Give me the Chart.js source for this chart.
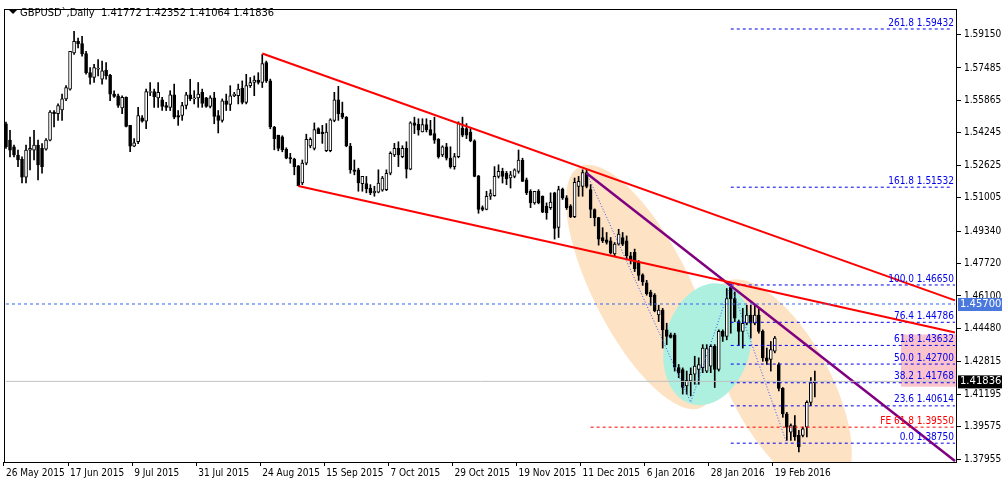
<!DOCTYPE html>
<html>
<head>
<meta charset="utf-8">
<script src="https://cdn.jsdelivr.net/npm/chart.js@4.4.0/dist/chart.umd.min.js"></script>
<style>
html,body{margin:0;padding:0;background:#fff;}
#wrap{width:1002px;height:485px;position:relative;}
</style>
</head>
<body>
<div id="wrap"><canvas id="myChart"></canvas></div>
<script>
// daily candles GBPUSD, 26 May 2015 - 29 Feb 2016
var opens = [1.5470,1.5388,1.5355,1.5314,1.5292,1.5203,1.5338,1.5338,1.5363,1.5347,1.5343,1.5388,1.5528,1.5520,1.5539,1.5594,1.5643,1.5824,1.5882,1.5870,
1.5821,1.5725,1.5701,1.5742,1.5692,1.5737,1.5712,1.5618,1.5610,1.5549,1.5602,1.5462,1.5358,1.5380,1.5500,1.5483,1.5627,1.5631,1.5599,1.5589,
1.5561,1.5552,1.5615,1.5511,1.5511,1.5561,1.5615,1.5594,1.5599,1.5627,1.5599,1.5556,1.5599,1.5511,1.5487,1.5585,1.5566,1.5610,1.5610,1.5648,
1.5577,1.5660,1.5676,1.5688,1.5676,1.5775,1.5684,1.5454,1.5413,1.5405,1.5342,1.5301,1.5293,1.5260,1.5174,1.5273,1.5359,1.5347,1.5446,1.5429,
1.5335,1.5335,1.5487,1.5589,1.5523,1.5503,1.5359,1.5240,1.5240,1.5171,1.5171,1.5149,1.5125,1.5128,1.5138,1.5141,1.5223,1.5314,1.5347,1.5306,
1.5347,1.5243,1.5474,1.5467,1.5429,1.5466,1.5441,1.5421,1.5392,1.5314,1.5355,1.5298,1.5256,1.5306,1.5449,1.5446,1.5429,1.5385,1.5210,1.5051,
1.5042,1.5108,1.5111,1.5207,1.5232,1.5223,1.5199,1.5207,1.5232,1.5289,1.5190,1.5133,1.5075,1.5133,1.5108,1.5059,1.5051,1.5125,1.4952,1.5144,
1.5100,1.5059,1.5006,1.5157,1.5157,1.5226,1.5141,1.5042,1.5001,1.4902,1.4890,1.4886,1.4820,1.4869,1.4902,1.4886,1.4811,1.4828,1.4779,1.4716,
1.4676,1.4630,1.4614,1.4515,1.4540,1.4441,1.4416,1.4416,1.4252,1.4243,1.4161,1.4186,1.4219,1.4243,1.4252,1.4235,1.4260,1.4359,1.4243,1.4433,
1.4408,1.4655,1.4597,1.4482,1.4433,1.4474,1.4515,1.4474,1.4515,1.4433,1.4301,1.4293,1.4334,1.4268,1.4149,1.4021,1.3930,1.3963,1.3914,1.3914,
1.3955,1.4079,1.41772];
var highs = [1.5478,1.5437,1.5363,1.5338,1.5305,1.5363,1.5404,1.5437,1.5388,1.5371,1.5396,1.5536,1.5536,1.5569,1.5618,1.5660,1.5832,1.5931,1.5898,1.5907,
1.5832,1.5750,1.5767,1.5791,1.5783,1.5775,1.5717,1.5635,1.5618,1.5610,1.5605,1.5462,1.5396,1.5552,1.5511,1.5643,1.5676,1.5643,1.5676,1.5602,
1.5577,1.5635,1.5668,1.5536,1.5577,1.5627,1.5692,1.5635,1.5676,1.5643,1.5602,1.5610,1.5627,1.5536,1.5594,1.5618,1.5660,1.5627,1.5668,1.5684,
1.5717,1.5701,1.5709,1.5725,1.5816,1.5783,1.5693,1.5457,1.5413,1.5410,1.5350,1.5322,1.5298,1.5262,1.5289,1.5418,1.5400,1.5474,1.5450,1.5462,
1.5471,1.5495,1.5627,1.5657,1.5578,1.5506,1.5372,1.5289,1.5248,1.5207,1.5207,1.5166,1.5158,1.5240,1.5207,1.5240,1.5330,1.5372,1.5380,1.5360,
1.5380,1.5480,1.5503,1.5495,1.5495,1.5495,1.5487,1.5503,1.5396,1.5360,1.5372,1.5355,1.5322,1.5480,1.5503,1.5471,1.5446,1.5390,1.5212,1.5060,
1.5133,1.5141,1.5256,1.5265,1.5248,1.5232,1.5232,1.5245,1.5339,1.5298,1.5199,1.5141,1.5133,1.5141,1.5110,1.5075,1.5125,1.5128,1.5158,1.5149,
1.5111,1.5066,1.5199,1.5207,1.5240,1.5240,1.5166,1.5045,1.5003,1.4951,1.4927,1.4902,1.4877,1.4943,1.4927,1.4910,1.4828,1.4844,1.4787,1.4721,
1.4688,1.4639,1.4622,1.4564,1.4548,1.4474,1.4425,1.4424,1.4268,1.4251,1.4235,1.4251,1.4309,1.4301,1.4367,1.4367,1.4367,1.4367,1.4441,1.4441,
1.4647,1.4671,1.4630,1.4490,1.4548,1.4564,1.4564,1.4564,1.4548,1.4441,1.4350,1.4383,1.4408,1.4276,1.4153,1.4029,1.3971,1.4013,1.3939,1.3955,
1.4087,1.4202,1.42352];
var lows = [1.5347,1.5305,1.5305,1.5256,1.5174,1.5174,1.5240,1.5289,1.5190,1.5223,1.5338,1.5384,1.5454,1.5487,1.5487,1.5585,1.5638,1.5816,1.5849,1.5808,
1.5717,1.5668,1.5676,1.5709,1.5668,1.5692,1.5585,1.5602,1.5552,1.5520,1.5454,1.5330,1.5355,1.5371,1.5478,1.5445,1.5610,1.5552,1.5552,1.5536,
1.5536,1.5536,1.5495,1.5462,1.5487,1.5544,1.5585,1.5569,1.5552,1.5552,1.5552,1.5549,1.5470,1.5424,1.5478,1.5536,1.5536,1.5605,1.5569,1.5569,
1.5569,1.5651,1.5610,1.5668,1.5651,1.5676,1.5445,1.5340,1.5335,1.5330,1.5295,1.5273,1.5215,1.5161,1.5166,1.5265,1.5350,1.5339,1.5421,1.5372,
1.5331,1.5330,1.5480,1.5487,1.5495,1.5355,1.5223,1.5215,1.5133,1.5133,1.5125,1.5116,1.5108,1.5125,1.5133,1.5136,1.5215,1.5306,1.5256,1.5300,
1.5199,1.5240,1.5421,1.5413,1.5429,1.5429,1.5413,1.5372,1.5298,1.5306,1.5289,1.5248,1.5243,1.5300,1.5405,1.5396,1.5380,1.5205,1.5023,1.5035,
1.5040,1.5092,1.5108,1.5199,1.5174,1.5166,1.5149,1.5200,1.5223,1.5182,1.5116,1.5051,1.5068,1.5070,1.5026,1.4993,1.5042,1.4894,1.4902,1.5092,
1.5042,1.5001,1.5001,1.5108,1.5108,1.5150,1.5001,1.4960,1.4864,1.4877,1.4869,1.4820,1.4811,1.4864,1.4861,1.4795,1.4770,1.4732,1.4688,1.4663,
1.4614,1.4564,1.4531,1.4482,1.4350,1.4367,1.4400,1.4235,1.4202,1.4120,1.4120,1.4111,1.4169,1.4169,1.4227,1.4227,1.4227,1.4153,1.4235,1.4383,
1.4391,1.4424,1.4482,1.4367,1.4350,1.4466,1.4400,1.4466,1.4424,1.4284,1.4268,1.4235,1.4326,1.4136,1.4004,1.3889,1.3889,1.3889,1.3831,1.3906,
1.3906,1.4062,1.41064];
var closes = [1.5355,1.5338,1.5314,1.5289,1.5203,1.5338,1.5347,1.5363,1.5264,1.5256,1.5388,1.5528,1.5520,1.5561,1.5594,1.5651,1.5832,1.5882,1.5870,1.5819,
1.5725,1.5701,1.5750,1.5747,1.5734,1.5709,1.5618,1.5607,1.5561,1.5602,1.5457,1.5358,1.5375,1.5511,1.5483,1.5631,1.5631,1.5605,1.5627,1.5556,
1.5552,1.5615,1.5503,1.5503,1.5561,1.5615,1.5594,1.5599,1.5618,1.5572,1.5556,1.5599,1.5506,1.5487,1.5585,1.5566,1.5610,1.5618,1.5643,1.5577,
1.5660,1.5676,1.5688,1.5676,1.5770,1.5684,1.5454,1.5396,1.5347,1.5339,1.5298,1.5294,1.5256,1.5161,1.5273,1.5392,1.5392,1.5441,1.5421,1.5421,
1.5429,1.5490,1.5589,1.5520,1.5503,1.5359,1.5240,1.5232,1.5174,1.5207,1.5144,1.5125,1.5133,1.5174,1.5199,1.5223,1.5322,1.5347,1.5314,1.5347,
1.5243,1.5474,1.5462,1.5438,1.5466,1.5441,1.5413,1.5388,1.5306,1.5355,1.5298,1.5256,1.5306,1.5471,1.5413,1.5413,1.5385,1.5207,1.5042,1.5042,
1.5108,1.5121,1.5207,1.5232,1.5207,1.5194,1.5215,1.5240,1.5289,1.5182,1.5125,1.5075,1.5133,1.5075,1.5029,1.5026,1.5079,1.4947,1.5141,1.5100,
1.5051,1.5006,1.5177,1.5182,1.5226,1.5157,1.5042,1.5001,1.4894,1.4886,1.4877,1.4825,1.4869,1.4919,1.4869,1.4811,1.4787,1.4746,1.4713,1.4680,
1.4622,1.4606,1.4535,1.4540,1.4441,1.4408,1.4403,1.4255,1.4227,1.4153,1.4189,1.4219,1.4260,1.4268,1.4350,1.4347,1.4359,1.4243,1.4433,1.4408,
1.4597,1.4597,1.4499,1.4433,1.4474,1.4515,1.4474,1.4515,1.4433,1.4301,1.4284,1.4342,1.4400,1.4149,1.4021,1.3955,1.3963,1.3906,1.3856,1.3947,
1.4079,1.4177,1.41836];

var slots = 238;
var dateTicks = {0:'26 May 2015',16:'17 Jun 2015',32:'9 Jul 2015',48:'31 Jul 2015',64:'24 Aug 2015',80:'15 Sep 2015',
  96:'7 Oct 2015',112:'29 Oct 2015',128:'19 Nov 2015',144:'11 Dec 2015',160:'6 Jan 2016',176:'28 Jan 2016',192:'19 Feb 2016'};
var priceTicks = [1.59150,1.57485,1.55865,1.54245,1.52625,1.51005,1.49340,1.47720,1.46100,1.44480,1.42815,1.41195,1.39575,1.37955];

// fibo retracement levels and expansion
var fibNames = ['261.8','161.8','100.0','76.4','61.8','50.0','38.2','23.6','0.0'];
var fibPrices = [1.59432,1.51532,1.46650,1.44786,1.43632,1.42700,1.41768,1.40614,1.38750];
var fePrice = 1.39550;
var bidLine = 1.41836, alertLine = 1.45700;

// trend lines [i0, p0, i1, p1]
var upperLine = [64, 1.5821, 237, 1.4588];
var lowerLine = [73, 1.5159, 237, 1.4428];
var purpleLine = [145, 1.5223, 237, 1.3786];
var zigzagIdx = [145, 171, 181, 195];
var zigzagPx = [1.5223, 1.4080, 1.4665, 1.3875];

var labels = [];
for (var i = 0; i < slots; i++) labels.push(i);

function seg(a, va, b, vb) {
  var arr = new Array(slots).fill(null);
  arr[a] = va; arr[b] = vb;
  return arr;
}
function lineDs(data, color, width, dash) {
  return {type:'line', data:data, borderColor:color, borderWidth:width, borderDash:dash||[],
    pointRadius:0, spanGaps:true, fill:false, order:0, tension:0};
}

var wicks = [], bodies = [], bodyFill = [];
for (var i = 0; i < opens.length; i++) {
  wicks.push([lows[i], highs[i]]);
  var lo = Math.min(opens[i], closes[i]), hi = Math.max(opens[i], closes[i]);
  if (hi - lo < 0.00012) hi = lo + 0.00012;
  bodies.push([lo, hi]);
  bodyFill.push(closes[i] >= opens[i] ? '#ffffff' : '#000000');
}

var zz = new Array(slots).fill(null);
zigzagIdx.forEach(function(ix, k){ zz[ix] = zigzagPx[k]; });

var datasets = [
  {type:'bar', data:wicks, backgroundColor:'#000', barThickness:1, grouped:false, order:3},
  {type:'bar', data:bodies, backgroundColor:bodyFill, borderColor:'#000', borderWidth:1,
   borderSkipped:false, barThickness:3, grouped:false, order:2},
  lineDs(seg(0, alertLine, slots-1, alertLine), '#3366ee', 1, [3,3]),
  lineDs(seg(0, bidLine, slots-1, bidLine), '#c0c0c0', 1),
  lineDs(zz, '#3355ff', 1, [1,2]),
  lineDs(seg(146, fePrice, slots-1, fePrice), '#ff0000', 1, [3,3]),
  lineDs(seg.apply(null, upperLine), '#ff0000', 2),
  lineDs(seg.apply(null, lowerLine), '#ff0000', 2),
  lineDs(seg.apply(null, purpleLine), '#800080', 2.5)
];
fibPrices.forEach(function(p, k){
  var end = k < 2 ? 236 : slots-1;
  datasets.push(lineDs(seg(181, p, end, p), '#0000ee', 1, [3,3]));
});

// shaded ellipses: center index, price, semi axes in px, rotation
var ellipses = [
  {i:158.5, p:1.4655, a:135, b:48, rot:1.10, color:'#fde2c4'},
  {i:193.5, p:1.4161, a:118, b:50, rot:1.08, color:'#fde2c4'},
  {i:175.2, p:1.4369, a:43, b:62, rot:0.25, color:'#aef0e0'}
];

var overlayPlugin = {
  id:'overlay',
  beforeDatasetsDraw: function(chart) {
    var ctx = chart.ctx, x = chart.scales.x, y = chart.scales.y, ca = chart.chartArea;
    ctx.save();
    ctx.beginPath(); ctx.rect(ca.left, ca.top, ca.right-ca.left, ca.bottom-ca.top); ctx.clip();
    ellipses.forEach(function(e){
      var cx = x.left + (e.i + 0.5) * (x.width / slots);
      ctx.fillStyle = e.color;
      ctx.beginPath();
      ctx.ellipse(cx, y.getPixelForValue(e.p), e.a, e.b, e.rot, 0, Math.PI*2);
      ctx.fill();
    });
    // pink box behind fibo labels
    var y1 = y.getPixelForValue(1.4418), y2 = y.getPixelForValue(1.4157);
    ctx.fillStyle = '#fbc4cc';
    ctx.fillRect(ca.right-56, y1, 56, y2-y1);
    ctx.restore();
  },
  afterDraw: function(chart) {
    var ctx = chart.ctx, y = chart.scales.y, ca = chart.chartArea;
    ctx.save();
    ctx.font = '10px "DejaVu Sans Condensed", "Liberation Sans", sans-serif';
    ctx.textAlign = 'right'; ctx.textBaseline = 'bottom';
    fibPrices.forEach(function(p, k){
      ctx.fillStyle = '#0000ee';
      ctx.fillText(fibNames[k] + ' ' + p.toFixed(5), ca.right-3, y.getPixelForValue(p)-1);
    });
    ctx.fillStyle = '#ff0000';
    ctx.fillText('FE 61.8 ' + fePrice.toFixed(5), ca.right-3, y.getPixelForValue(fePrice)-1);
    // border
    ctx.strokeStyle = '#000'; ctx.lineWidth = 1;
    ctx.strokeRect(ca.left+0.5, ca.top+0.5, ca.right-ca.left-1, ca.bottom-ca.top);
    // price tags
    ctx.font = '10px "DejaVu Sans", sans-serif';
    ctx.textAlign = 'left'; ctx.textBaseline = 'middle';
    [[alertLine,'#4a78dc'],[bidLine,'#000000']].forEach(function(t){
      var py = y.getPixelForValue(t[0]);
      ctx.fillStyle = t[1];
      ctx.fillRect(ca.right+1, py-6, 44, 13);
      ctx.fillStyle = '#fff';
      ctx.fillText(t[0].toFixed(5), ca.right+3, py+0.5);
    });
    // title
    ctx.fillStyle = '#000';
    ctx.beginPath(); ctx.moveTo(9, 10); ctx.lineTo(17, 10); ctx.lineTo(13, 14); ctx.fill();
    ctx.font = '11px "DejaVu Sans Condensed", "Liberation Sans", sans-serif';
    ctx.fillStyle = '#000';
    ctx.fillText('GBPUSD`,Daily  1.41772 1.42352 1.41064 1.41836', 20, 13);
    ctx.restore();
  }
};

var myChart = new Chart(document.getElementById('myChart').getContext('2d'), {
  data: {labels: labels, datasets: datasets},
  options: {
    responsive:true, maintainAspectRatio:false, animation:false,
    layout:{padding:{left:4, top:-5, right:0, bottom:0}},
    plugins:{legend:{display:false}, tooltip:{enabled:false}},
    scales:{
      x:{
        type:'category', offset:true,
        grid:{drawOnChartArea:false, tickLength:4,
          color:function(c){ return dateTicks[c.index] !== undefined ? '#000' : 'rgba(0,0,0,0)'; }},
        border:{display:false},
        ticks:{autoSkip:false, maxRotation:0, align:'start', padding:1,
          color:'#000', font:{size:10, family:'"DejaVu Sans Condensed", "Liberation Sans", sans-serif'},
          callback:function(v, idx){ return dateTicks[idx] || ''; }},
        afterFit:function(s){ s.height = 23; }
      },
      y:{
        position:'right', min:1.3781, max:1.6043,
        afterBuildTicks:function(s){ s.ticks = priceTicks.map(function(v){ return {value:v}; }); },
        grid:{drawOnChartArea:false, tickLength:4, color:'#000'},
        border:{display:false},
        ticks:{padding:3, color:'#000', font:{size:10, family:'"DejaVu Sans Condensed", "Liberation Sans", sans-serif'},
          callback:function(v){ return v.toFixed(5); }},
        afterFit:function(s){ s.width = 45; }
      }
    }
  },
  plugins:[overlayPlugin]
});
</script>
</body>
</html>
